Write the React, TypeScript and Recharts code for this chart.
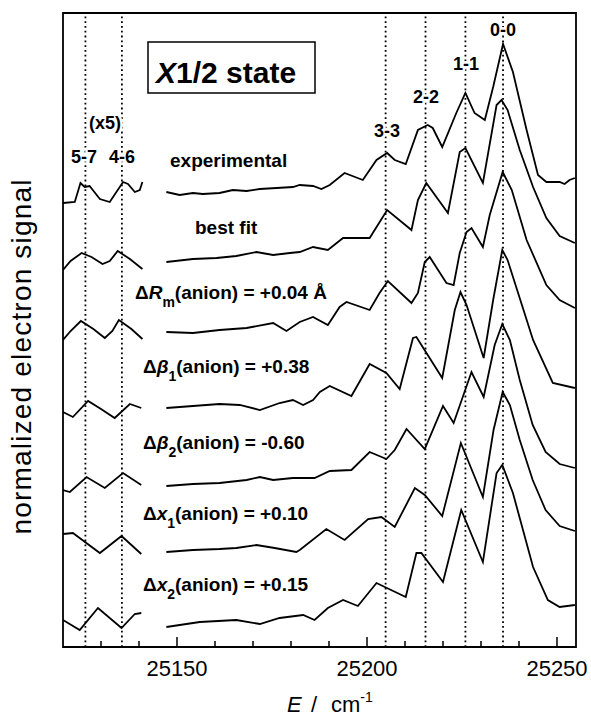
import { LineChart, Line, XAxis, YAxis, ReferenceLine, ReferenceArea } from "recharts";

type Pt = [number, number];

const E_MIN = 25120;
const E_MAX = 25255;
const SIGNAL_MAX = 634;
// the (x5) inset on the left is cut off from the main spectrum here
const GAP_E = 25144;

const BOTTOM_TICKS = [25130, 25140, 25150, 25160, 25170, 25180, 25190, 25200, 25210, 25220, 25230, 25240, 25250];
const MAJOR_TICKS = [25150, 25200, 25250];
const PROGRESSION_LINES = [25125.9, 25135.5, 25204.9, 25215.4, 25225.9, 25235.8];

const EXPERIMENTAL_LEFT: Pt[] = [
  [25120.0, 444], [25123.1, 445], [25124.6, 464], [25125.7, 460], [25127.0, 461], [25129.7, 448],
  [25132.3, 445], [25135.8, 465], [25137.1, 463], [25138.9, 455], [25140.2, 457], [25140.9, 465],
];
const EXPERIMENTAL_RIGHT: Pt[] = [
  [25147.2, 455], [25150.7, 452], [25154.2, 454], [25156.8, 453], [25161.2, 454], [25164.7, 457],
  [25168.3, 456], [25171.8, 458], [25176.2, 459], [25180.5, 460], [25182.3, 462], [25185.8, 461],
  [25188.0, 458], [25190.2, 462], [25194.1, 474], [25198.9, 467], [25202.5, 487], [25205.3, 494],
  [25207.3, 487], [25210.2, 483], [25213.4, 517], [25216.0, 522], [25217.3, 519], [25219.8, 500],
  [25223.5, 534], [25225.9, 554], [25228.3, 534], [25231.0, 527], [25233.2, 560], [25235.8, 603],
  [25238.4, 575], [25242.0, 517], [25245.0, 472], [25247.2, 465], [25250.7, 465], [25252.0, 463],
  [25253.3, 467], [25254.7, 469],
];

const BEST_FIT_LEFT: Pt[] = [
  [25120.0, 377], [25122.0, 386], [25124.9, 394], [25127.5, 390], [25130.4, 383], [25132.3, 386],
  [25134.4, 396], [25137.6, 388], [25140.9, 378],
];
const BEST_FIT_RIGHT: Pt[] = [
  [25147.2, 385], [25154.2, 388], [25160.4, 389], [25165.6, 391], [25170.9, 395], [25175.3, 392],
  [25179.7, 394], [25182.3, 395], [25185.8, 400], [25189.7, 397], [25193.7, 409], [25200.7, 409],
  [25205.3, 437], [25211.7, 417], [25213.4, 447], [25215.6, 464], [25221.3, 434], [25224.4, 495],
  [25225.9, 499], [25230.5, 464], [25234.1, 542], [25235.4, 547], [25237.0, 537], [25240.2, 497],
  [25243.7, 460], [25247.2, 429], [25250.7, 411], [25254.7, 404],
];

const DELTA_RM_LEFT: Pt[] = [
  [25120.0, 307], [25122.0, 316], [25124.7, 326], [25128.0, 318], [25131.0, 309], [25133.0, 316],
  [25134.7, 327], [25138.0, 318], [25140.9, 308],
];
const DELTA_RM_RIGHT: Pt[] = [
  [25147.2, 315], [25154.2, 314], [25161.2, 317], [25168.3, 319], [25175.3, 324], [25178.8, 316],
  [25182.3, 325], [25185.8, 330], [25189.7, 322], [25192.8, 340], [25194.6, 345], [25200.7, 337],
  [25203.3, 354], [25205.5, 366], [25211.7, 344], [25213.4, 354], [25215.2, 385], [25216.5, 390],
  [25220.9, 364], [25222.8, 362], [25224.4, 394], [25226.2, 415], [25227.5, 419], [25230.5, 400],
  [25232.3, 432], [25235.7, 475], [25238.1, 457], [25242.0, 407], [25247.2, 362], [25250.7, 347],
  [25254.7, 339],
];

const DELTA_B1_LEFT: Pt[] = [
  [25120.0, 235], [25122.6, 230], [25126.6, 246], [25130.0, 238], [25133.6, 229], [25137.6, 243],
  [25140.6, 239],
];
const DELTA_B1_RIGHT: Pt[] = [
  [25147.2, 239], [25154.2, 241], [25161.2, 243], [25166.5, 242], [25171.8, 237], [25177.0, 244],
  [25180.5, 247], [25183.2, 242], [25185.8, 247], [25187.6, 255], [25190.2, 261], [25195.9, 251],
  [25200.7, 283], [25205.1, 274], [25208.6, 258], [25212.1, 309], [25213.0, 310], [25219.8, 269],
  [25223.1, 337], [25224.6, 355], [25226.2, 342], [25230.7, 289], [25233.2, 347], [25235.6, 397],
  [25237.0, 387], [25243.7, 307], [25248.9, 264], [25254.7, 259],
];

const DELTA_B2_LEFT: Pt[] = [
  [25120.0, 157], [25121.8, 155], [25126.2, 170], [25131.0, 159], [25135.8, 174], [25140.6, 162],
];
const DELTA_B2_RIGHT: Pt[] = [
  [25147.2, 161], [25154.2, 163], [25161.2, 164], [25168.3, 167], [25171.8, 170], [25175.3, 167],
  [25180.5, 169], [25184.1, 169], [25186.2, 169], [25190.2, 176], [25195.9, 177], [25200.7, 195],
  [25205.1, 188], [25207.3, 197], [25210.4, 218], [25215.2, 198], [25220.0, 241], [25222.8, 224],
  [25227.5, 275], [25230.7, 250], [25233.6, 302], [25235.6, 323], [25237.6, 307], [25240.2, 267],
  [25243.6, 222], [25247.0, 195], [25250.7, 183], [25254.7, 179],
];

const DELTA_X1_LEFT: Pt[] = [
  [25120.0, 113], [25122.6, 114], [25129.7, 94], [25135.4, 111], [25140.6, 93],
];
const DELTA_X1_RIGHT: Pt[] = [
  [25147.2, 95], [25154.2, 97], [25161.2, 98], [25165.6, 99], [25170.9, 102], [25175.7, 99],
  [25181.4, 95], [25182.3, 97], [25189.3, 118], [25194.1, 107], [25200.3, 128], [25203.8, 130],
  [25207.3, 120], [25212.6, 159], [25215.2, 152], [25219.8, 131], [25224.7, 204], [25230.5, 150],
  [25233.3, 217], [25235.7, 255], [25237.6, 242], [25240.2, 207], [25243.6, 167], [25247.0, 137],
  [25250.7, 121], [25254.7, 116],
];

const DELTA_X2_LEFT: Pt[] = [
  [25120.0, 27], [25124.4, 17], [25129.2, 39], [25135.4, 19], [25138.9, 33], [25140.6, 34],
];
const DELTA_X2_RIGHT: Pt[] = [
  [25147.2, 20], [25156.0, 25], [25165.6, 27], [25171.8, 23], [25177.0, 29], [25183.2, 32],
  [25186.2, 27], [25189.7, 39], [25193.7, 47], [25197.6, 41], [25202.5, 64], [25210.2, 50],
  [25213.0, 94], [25214.3, 94], [25220.0, 65], [25224.8, 137], [25230.5, 85], [25234.1, 174],
  [25235.6, 182], [25238.4, 154], [25243.7, 80], [25247.6, 47], [25250.7, 40], [25254.7, 42],
];

const SERIES = [
  { key: "experimental", left: EXPERIMENTAL_LEFT, right: EXPERIMENTAL_RIGHT },
  { key: "bestFit", left: BEST_FIT_LEFT, right: BEST_FIT_RIGHT },
  { key: "dRm", left: DELTA_RM_LEFT, right: DELTA_RM_RIGHT },
  { key: "dB1", left: DELTA_B1_LEFT, right: DELTA_B1_RIGHT },
  { key: "dB2", left: DELTA_B2_LEFT, right: DELTA_B2_RIGHT },
  { key: "dX1", left: DELTA_X1_LEFT, right: DELTA_X1_RIGHT },
  { key: "dX2", left: DELTA_X2_LEFT, right: DELTA_X2_RIGHT },
];

const toRows = (left: Pt[], right: Pt[]) => [
  ...left.map(([e, v]) => ({ e, v })),
  { e: GAP_E, v: null },
  ...right.map(([e, v]) => ({ e, v })),
];

const FONT = "'Liberation Sans', Arial, Helvetica, sans-serif";

function BottomTick({ x, y, payload }: any) {
  const major = MAJOR_TICKS.includes(payload.value);
  return (
    <g>
      <line x1={x} x2={x} y1={y} y2={y - (major ? 10 : 6)} stroke="#000" strokeWidth={1.5} />
      {major && (
        <text x={x} y={y + 29} textAnchor="middle" fontSize={22} fontFamily={FONT} fill="#000">
          {payload.value}
        </text>
      )}
    </g>
  );
}

function TopTick({ x, y, payload }: any) {
  const major = MAJOR_TICKS.includes(payload.value);
  return <line x1={x} x2={x} y1={y} y2={y + (major ? 10 : 6)} stroke="#000" strokeWidth={1.5} />;
}

const halo = { stroke: "#fff", strokeWidth: 5, paintOrder: "stroke" as const };

function Annotations() {
  const bold = { fontFamily: FONT, fontWeight: 700, fill: "#000" };
  return (
    <svg width={591} height={721} style={{ position: "absolute", left: 0, top: 0, pointerEvents: "none" }}>
      <rect x={148} y={42} width={167} height={51} fill="#fff" stroke="#000" strokeWidth={1.5} />
      <text x={156} y={83} fontSize={30} {...bold}>
        <tspan fontStyle="italic">X</tspan>1/2 state
      </text>

      <text x={503} y={36} fontSize={18} textAnchor="middle" {...bold} {...halo}>0-0</text>
      <text x={466} y={70} fontSize={18} textAnchor="middle" {...bold} {...halo}>1-1</text>
      <text x={426} y={103} fontSize={18} textAnchor="middle" {...bold} {...halo}>2-2</text>
      <text x={387} y={137} fontSize={18} textAnchor="middle" {...bold} {...halo}>3-3</text>
      <text x={105} y={129} fontSize={18} textAnchor="middle" {...bold} {...halo}>(x5)</text>
      <text x={84} y={163} fontSize={18} textAnchor="middle" {...bold} {...halo}>5-7</text>
      <text x={122} y={163} fontSize={18} textAnchor="middle" {...bold} {...halo}>4-6</text>

      <text x={170} y={167} fontSize={19} {...bold}>experimental</text>
      <text x={195} y={234} fontSize={19} {...bold}>best fit</text>
      <text x={135} y={299} fontSize={19} {...bold}>
        Δ<tspan fontStyle="italic">R</tspan>
        <tspan fontSize={14} dy={8}>m</tspan>
        <tspan dy={-8}>(anion) = +0.04 Å</tspan>
      </text>
      <text x={143} y={373} fontSize={19} {...bold}>
        Δ<tspan fontStyle="italic">β</tspan>
        <tspan fontSize={14} dy={8}>1</tspan>
        <tspan dy={-8}>(anion) = +0.38</tspan>
      </text>
      <text x={143} y={449} fontSize={19} {...bold}>
        Δ<tspan fontStyle="italic">β</tspan>
        <tspan fontSize={14} dy={8}>2</tspan>
        <tspan dy={-8}>(anion) = -0.60</tspan>
      </text>
      <text x={143} y={520} fontSize={19} {...bold}>
        Δ<tspan fontStyle="italic">x</tspan>
        <tspan fontSize={14} dy={8}>1</tspan>
        <tspan dy={-8}>(anion) = +0.10</tspan>
      </text>
      <text x={143} y={591} fontSize={19} {...bold}>
        Δ<tspan fontStyle="italic">x</tspan>
        <tspan fontSize={14} dy={8}>2</tspan>
        <tspan dy={-8}>(anion) = +0.15</tspan>
      </text>

      <text
        x={31}
        y={357}
        fontSize={28}
        fontFamily={FONT}
        textAnchor="middle"
        textLength={355}
        lengthAdjust="spacing"
        transform="rotate(-90 31 357)"
      >
        normalized electron signal
      </text>
      <text y={712} fontSize={22} fontFamily={FONT}>
        <tspan x={287} fontStyle="italic">E</tspan>
        <tspan x={311}>/</tspan>
        <tspan x={331}>cm</tspan>
        <tspan fontSize={14} dy={-10}>-1</tspan>
      </text>
    </svg>
  );
}

export default function App() {
  return (
    <div style={{ position: "absolute", left: 0, top: 0, width: 591, height: 721, background: "#fff" }}>
      <LineChart width={591} height={721} margin={{ top: 13, right: 15, bottom: 0, left: 63 }}>
        <XAxis
          type="number"
          dataKey="e"
          domain={[E_MIN, E_MAX]}
          allowDataOverflow
          ticks={BOTTOM_TICKS}
          interval={0}
          height={74}
          axisLine={false}
          tickLine={false}
          tickSize={0}
          tickMargin={0}
          tick={BottomTick}
        />
        <XAxis
          xAxisId="top"
          orientation="top"
          type="number"
          dataKey="e"
          domain={[E_MIN, E_MAX]}
          allowDataOverflow
          ticks={BOTTOM_TICKS}
          interval={0}
          height={0}
          axisLine={false}
          tickLine={false}
          tickSize={0}
          tickMargin={0}
          tick={TopTick}
        />
        <YAxis type="number" domain={[0, SIGNAL_MAX]} hide />
        {PROGRESSION_LINES.map((e) => (
          <ReferenceLine key={e} x={e} stroke="#000" strokeWidth={1.8} strokeDasharray="1.8 3" />
        ))}
        {SERIES.map((s) => (
          <Line
            key={s.key}
            data={toRows(s.left, s.right)}
            dataKey="v"
            type="linear"
            stroke="#000"
            strokeWidth={1.8}
            dot={false}
            isAnimationActive={false}
          />
        ))}
        <ReferenceArea x1={E_MIN} x2={E_MAX} y1={0} y2={SIGNAL_MAX} fill="none" stroke="#000" strokeWidth={1.8} />
      </LineChart>
      <Annotations />
    </div>
  );
}
